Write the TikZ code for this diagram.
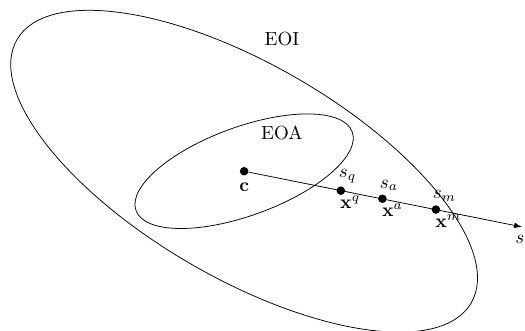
\documentclass[tikz,border=0pt]{standalone}
\usetikzlibrary{positioning}
\begin{document}
\begin{tikzpicture}[>=latex, dot/.style={circle, fill, inner sep=0pt, minimum size=4.5pt}, lab/.style={inner sep=0pt}]
	\useasboundingbox (0, 0) rectangle (9.72, 6.11);
	
	% Points on the ray
	\node[dot] (c) at (4.52, 2.94) {};
	\node[dot] (xq) at (6.31, 2.58) {};
	\node[dot] (xa) at (7.08, 2.43) {};
	\node[dot] (xm) at (8.07, 2.23) {};
	\coordinate (s) at (9.66, 1.91);
	
	% Ellipses
	\draw[rotate around={-30.1:(c)}] (c) ellipse [x radius=4.86, y radius=1.98];
	\draw[rotate around={20:(c)}] (c) ellipse [x radius=2.13, y radius=0.82];
	
	% Region names
	\node (EOI) at (5.22, 5.38) {EOI};
	\node (EOA) at (5.22, 3.65) {EOA};
	
	% Ray
	\draw[->] (c) -- (s);
	
	% Labels
	\node[below=0pt of c] (cl) {$\mathbf{c}$};
	\node[lab, above right=1.5pt and -1.2pt of xq.north] (sq) {$s_q$};
	\node[lab, below right=0pt and -0.5pt of xq.south] (xql) {$\mathbf{x}^q$};
	\node[lab, above right=1.5pt and -1.5pt of xa.north] (sa) {$s_a$};
	\node[lab, below right=0pt and -0.3pt of xa.south] (xal) {$\mathbf{x}^a$};
	\node[lab, above right=1.5pt and -1.8pt of xm.north] (sm) {$s_m$};
	\node[lab, below right=0pt and -0.5pt of xm.south] (xml) {$\mathbf{x}^m$};
	\node[lab, below=4.5pt of s, xshift=-1pt] (sl) {$s$};
	
\end{tikzpicture}
\end{document}
